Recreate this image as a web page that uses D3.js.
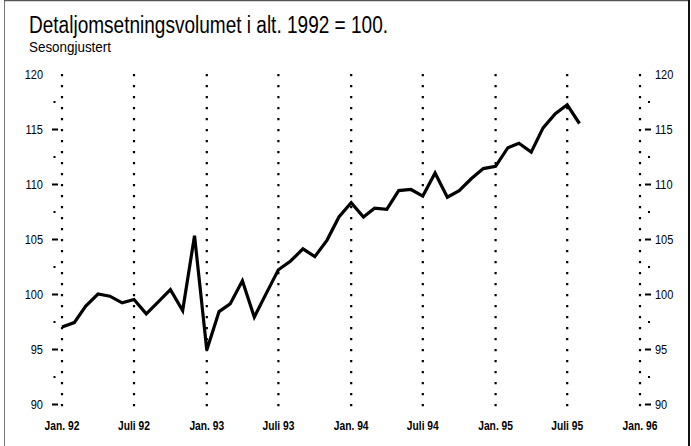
<!DOCTYPE html>
<html>
<head>
<meta charset="utf-8">
<script src="https://cdn.jsdelivr.net/npm/d3@7"></script>
<style>
  html, body { margin: 0; padding: 0; background: #fff; }
  svg { display: block; }
  text { font-family: "Liberation Sans Narrow", "Arial Narrow", "Liberation Sans", Arial, sans-serif; fill: #000; }
</style>
</head>
<body>
<svg id="chart" width="691" height="446"></svg>
<script>
// ---- data ----
const titleText = "Detaljomsetningsvolumet i alt. 1992 = 100.";
const subtitleText = "Sesongjustert";
const startMonth = "1992-01";
const values = [
  // 1992
  97.0, 97.4, 98.9, 100.0, 99.8, 99.2, 99.5, 98.2, 99.3, 100.4, 98.5, 105.3,
  // 1993
  94.9, 98.4, 99.1, 101.2, 97.9, 100.1, 102.2, 103.0, 104.1, 103.4, 104.9, 107.0,
  // 1994
  108.3, 107.0, 107.8, 107.7, 109.4, 109.5, 108.9, 111.0, 108.8, 109.4, 110.5, 111.4,
  // 1995
  111.6, 113.3, 113.7, 112.9, 115.1, 116.4, 117.2, 115.5
];
const xTickDates = ["1992-01","1992-07","1993-01","1993-07","1994-01","1994-07","1995-01","1995-07","1996-01"];
const xTickLabels = ["Jan. 92","Juli 92","Jan. 93","Juli 93","Jan. 94","Juli 94","Jan. 95","Juli 95","Jan. 96"];
const yMajorTicks = [90, 95, 100, 105, 110, 115];
const yMinorTicks = [92.5, 97.5, 102.5, 107.5, 112.5, 117.5];
const yLabels = [90, 95, 100, 105, 110, 115, 120];

// ---- drawing ----
const svg = d3.select("#chart");
const parse = d3.timeParse("%Y-%m");
const t0 = parse(startMonth);
const dates = values.map((v, i) => d3.timeMonth.offset(t0, i));

const x = d3.scaleTime().domain([parse("1992-01"), parse("1996-01")]).range([62, 640]);
const y = d3.scaleLinear().domain([90, 120]).range([404, 74]);

// condense text horizontally (narrow face)
function condense(sel, f) {
  sel.each(function () {
    const w = this.getComputedTextLength();
    d3.select(this).attr("textLength", w * f).attr("lengthAdjust", "spacingAndGlyphs");
  });
}

// frame
svg.append("line").attr("x1", 4.5).attr("x2", 4.5).attr("y1", 0).attr("y2", 446).attr("stroke", "#777").attr("stroke-width", 1);
svg.append("line").attr("x1", 4).attr("x2", 690).attr("y1", 0.5).attr("y2", 0.5).attr("stroke", "#555").attr("stroke-width", 1.5);
svg.append("line").attr("x1", 689).attr("x2", 689).attr("y1", 0).attr("y2", 446).attr("stroke", "#111").attr("stroke-width", 2);

// title
svg.append("text").attr("x", 29).attr("y", 33).attr("font-size", 23)
  .attr("textLength", 359).attr("lengthAdjust", "spacingAndGlyphs").text(titleText);
svg.append("text").attr("x", 29).attr("y", 52).attr("font-size", 15.5)
  .attr("textLength", 82).attr("lengthAdjust", "spacingAndGlyphs").text(subtitleText);

// dotted vertical lines
svg.append("g").selectAll("line").data(xTickDates).join("line")
  .attr("x1", d => x(parse(d))).attr("x2", d => x(parse(d)))
  .attr("y1", 74).attr("y2", 414)
  .attr("stroke", "#000").attr("stroke-width", 2.2)
  .attr("stroke-dasharray", "2.2,8.8");

// left axis
const yLeft = svg.append("g").attr("transform", "translate(58,0)")
  .call(d3.axisLeft(y).tickValues(yMajorTicks).tickSize(6).tickFormat(""));
yLeft.select(".domain").remove();
yLeft.selectAll("line").attr("stroke-width", 2);
const yLeftMinor = svg.append("g").attr("transform", "translate(55.5,0)")
  .call(d3.axisLeft(y).tickValues(yMinorTicks).tickSize(2).tickFormat(""));
yLeftMinor.select(".domain").remove();
yLeftMinor.selectAll("line").attr("stroke-width", 2);
svg.append("g").selectAll("text").data(yLabels).join("text")
  .attr("x", 43).attr("y", d => y(d)).attr("dy", "0.36em")
  .attr("text-anchor", "end").attr("font-size", 12.5).text(d => d)
  .call(condense, 0.88);

// right axis
const yRight = svg.append("g").attr("transform", "translate(645,0)")
  .call(d3.axisRight(y).tickValues(yMajorTicks).tickSize(6).tickFormat(""));
yRight.select(".domain").remove();
yRight.selectAll("line").attr("stroke-width", 2);
const yRightMinor = svg.append("g").attr("transform", "translate(648,0)")
  .call(d3.axisRight(y).tickValues(yMinorTicks).tickSize(2).tickFormat(""));
yRightMinor.select(".domain").remove();
yRightMinor.selectAll("line").attr("stroke-width", 2);
svg.append("g").selectAll("text").data(yLabels).join("text")
  .attr("x", 655).attr("y", d => y(d)).attr("dy", "0.36em")
  .attr("text-anchor", "start").attr("font-size", 12.5).text(d => d)
  .call(condense, 0.88);

// x labels
svg.append("g").selectAll("text").data(xTickDates).join("text")
  .attr("x", d => x(parse(d))).attr("y", 430)
  .attr("text-anchor", "middle").attr("font-size", 12.5).attr("font-weight", "bold")
  .text((d, i) => xTickLabels[i])
  .call(condense, 0.82);

// data line
const line = d3.line().x((d, i) => x(dates[i])).y(d => y(d)).curve(d3.curveLinear);
svg.append("path").datum(values).attr("d", line)
  .attr("fill", "none").attr("stroke", "#000").attr("stroke-width", 3.2)
  .attr("stroke-linejoin", "miter").attr("stroke-linecap", "butt");
</script>
</body>
</html>
